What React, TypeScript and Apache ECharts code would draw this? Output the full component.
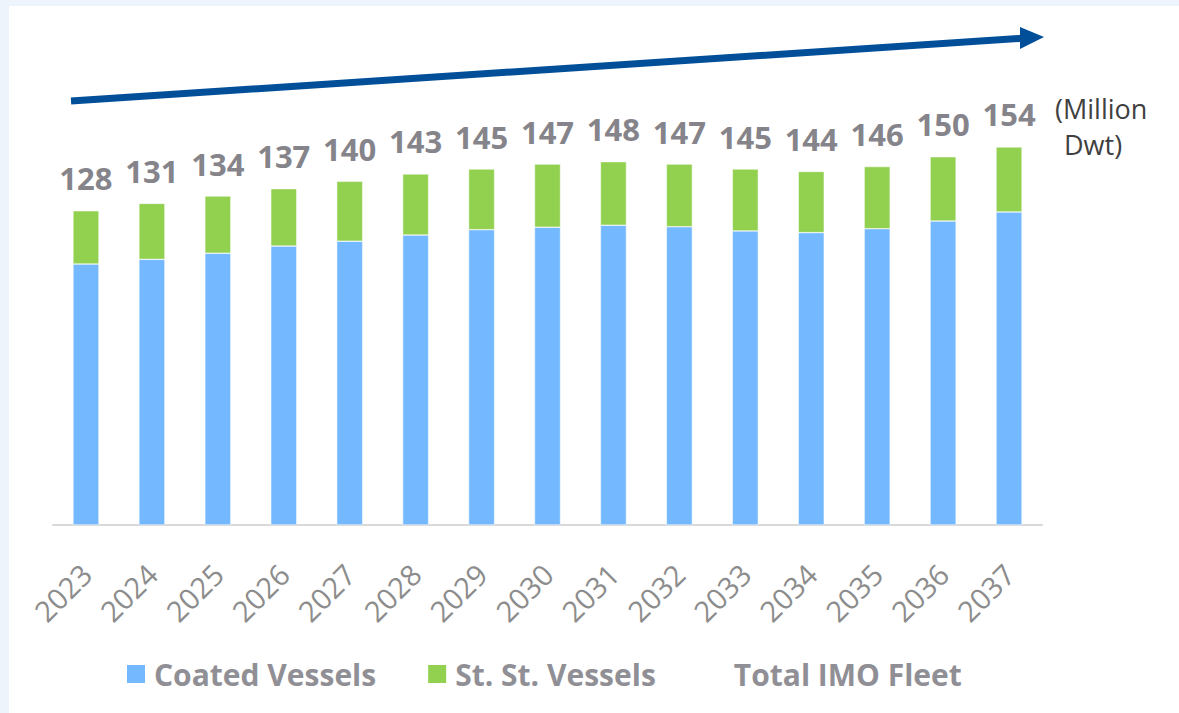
import React, { useEffect, useRef } from "react";
import * as echarts from "echarts";

const years = ["2023","2024","2025","2026","2027","2028","2029","2030","2031","2032","2033","2034","2035","2036","2037"];
const coated = [106.3,108.2,110.7,113.6,115.6,118.1,120.3,121.3,122.1,121.5,119.8,119.1,120.7,123.8,127.5];
const stainless = [21.7,22.8,23.3,23.4,24.4,24.9,24.7,25.7,25.9,25.5,25.2,24.9,25.3,26.2,26.5];
const totals = [128,131,134,137,140,143,145,147,148,147,145,144,146,150,154];

const FONT = "'Open Sans', 'Noto Sans', sans-serif";

export default function App() {
  const ref = useRef<HTMLDivElement>(null);
  useEffect(() => {
    document.body.style.margin = "0";
    const chart = echarts.init(ref.current!, null, { renderer: "svg" });
    chart.setOption({
      animation: false,
      backgroundColor: "#ffffff",
      textStyle: { fontFamily: FONT },
      grid: { left: 53, right: 137, top: 34, bottom: 188 },
      xAxis: {
        type: "category",
        data: years,
        axisLine: { lineStyle: { color: "#d9d9d9", width: 2 } },
        axisTick: { show: false },
        axisLabel: { rotate: 45, fontSize: 29, color: "#8c8c8c", margin: 44, fontFamily: FONT },
      },
      yAxis: { type: "value", min: 0, max: 200, show: false, splitLine: { show: false } },
      legend: {
        left: 120,
        top: 654,
        itemWidth: 20,
        itemHeight: 20,
        itemGap: 50,
        icon: "rect",
        textStyle: { fontSize: 30, fontWeight: "bold", color: "#908f95", fontFamily: FONT, padding: [0, 0, 0, 3] },
        data: [
          { name: "Coated Vessels" },
          { name: "St. St. Vessels" },
          { name: "Total IMO Fleet", itemStyle: { opacity: 0 } },
        ],
      },
      series: [
        {
          name: "Coated Vessels",
          type: "bar",
          stack: "fleet",
          barWidth: 26,
          data: coated,
          itemStyle: { color: "#74b9ff", borderColor: "#ffffff", borderWidth: 0.5 },
        },
        {
          name: "St. St. Vessels",
          type: "bar",
          stack: "fleet",
          barWidth: 26,
          data: stainless,
          itemStyle: { color: "#92d050", borderColor: "#ffffff", borderWidth: 0.5 },
          label: {
            show: true,
            position: "top",
            distance: 17,
            fontSize: 31,
            fontWeight: "bold",
            color: "#85848a",
            fontFamily: FONT,
            formatter: (p: any) => String(totals[p.dataIndex]),
          },
        },
        {
          name: "Total IMO Fleet",
          type: "line",
          data: totals,
          symbol: "none",
          lineStyle: { opacity: 0 },
          itemStyle: { color: "#ffffff" },
          silent: true,
        },
      ],
      graphic: [
        { type: "rect", shape: { x: 0, y: 0, width: 1179, height: 6 }, style: { fill: "#edf4fb" }, silent: true },
        { type: "rect", shape: { x: 0, y: 0, width: 9, height: 713 }, style: { fill: "#edf4fb" }, silent: true },
        {
          type: "line",
          shape: { x1: 71, y1: 101, x2: 1022, y2: 38.3 },
          style: { stroke: "#004f98", lineWidth: 7 },
          silent: true,
        },
        {
          type: "polygon",
          shape: { points: [[1020, 27], [1044, 37], [1020, 49]] },
          style: { fill: "#004f98" },
          silent: true,
        },
        {
          type: "text",
          x: 1055,
          y: 95,
          style: { text: "(Million", fontSize: 27, fill: "#404040", fontFamily: FONT },
          silent: true,
        },
        {
          type: "text",
          x: 1064,
          y: 131,
          style: { text: "Dwt)", fontSize: 27, fill: "#404040", fontFamily: FONT },
          silent: true,
        },
      ],
    });
    return () => chart.dispose();
  }, []);
  return <div ref={ref} style={{ position: "fixed", left: 0, top: 0, width: 1179, height: 713 }} />;
}
